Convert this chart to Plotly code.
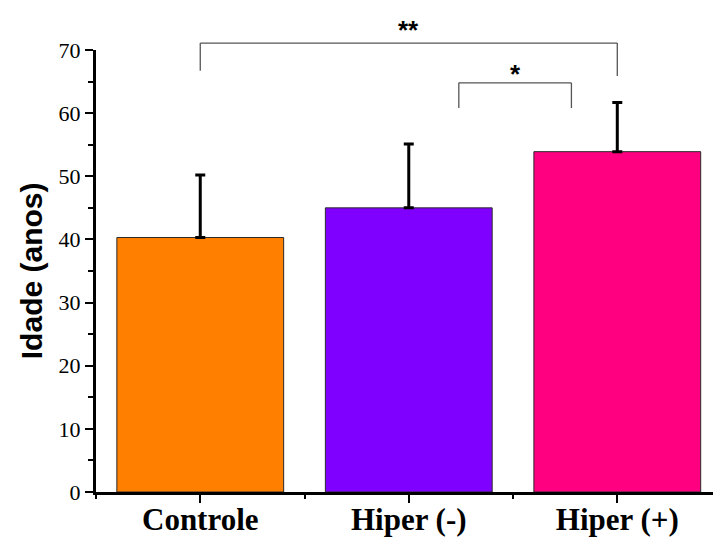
import plotly.graph_objects as go

# Age by group: mean and standard deviation
categories = ["Controle", "Hiper (-)", "Hiper (+)"]
mean_age = [40.3, 45.0, 53.9]
sd_age = [9.9, 10.1, 7.8]
bar_colors = ["#FF8000", "#8000FF", "#FF0080"]

y_ticks = [0, 10, 20, 30, 40, 50, 60, 70]

# Significance brackets: (left group, right group, bar height, left drop, right drop, label, label height)
brackets = [
    (0, 2, 71.1, 66.7, 65.9, "**", 73.2),
    (1.24, 1.78, 64.8, 60.8, 60.8, "*", 66.2),
]

Y_MAX = 70
x_pos = list(range(len(categories)))

fig = go.Figure()
fig.add_trace(go.Bar(
    x=x_pos,
    y=mean_age,
    width=0.8,
    marker=dict(color=bar_colors, line=dict(color="#2a2a2a", width=1)),
    error_y=dict(type="data", array=sd_age, arrayminus=[0] * len(sd_age),
                 symmetric=False, color="black", thickness=3, width=5),
    showlegend=False,
))

shapes = []
annotations = []
for x0, x1, top, d0, d1, label, ly in brackets:
    line = dict(color="#555555", width=1.3)
    shapes.append(dict(type="line", xref="x", yref="paper", x0=x0, x1=x1,
                       y0=top / Y_MAX, y1=top / Y_MAX, line=line))
    shapes.append(dict(type="line", xref="x", yref="paper", x0=x0, x1=x0,
                       y0=d0 / Y_MAX, y1=top / Y_MAX, line=line))
    shapes.append(dict(type="line", xref="x", yref="paper", x0=x1, x1=x1,
                       y0=d1 / Y_MAX, y1=top / Y_MAX, line=line))
    annotations.append(dict(text=label, xref="x", yref="paper", x=(x0 + x1) / 2,
                            y=ly / Y_MAX, showarrow=False, xanchor="center",
                            yanchor="middle",
                            font=dict(family="Liberation Sans", size=26,
                                      color="black", weight="bold")))

annotations.append(dict(text="Idade (anos)", xref="paper", yref="paper",
                        x=-0.105, y=0.5, textangle=-90, showarrow=False,
                        xanchor="center", yanchor="middle",
                        font=dict(family="Liberation Sans", size=30,
                                  color="black", weight="bold")))

fig.update_layout(
    width=713, height=537,
    margin=dict(l=96, r=0, t=50, b=45, autoexpand=False),
    paper_bgcolor="white", plot_bgcolor="white",
    shapes=shapes, annotations=annotations,
    bargap=0.2,
)

fig.update_xaxes(
    range=[-0.5, 2.459], automargin=False,
    tickvals=x_pos, ticktext=categories,
    ticks="outside", ticklen=8, tickwidth=2, tickcolor="black",
    showline=True, linewidth=3, linecolor="black",
    showgrid=False, zeroline=False,
    ticklabelstandoff=-10,
    tickfont=dict(family="Liberation Serif", size=31, color="black", weight="bold"),
    minor=dict(tickvals=[-0.5, 0.5, 1.5, 2.5], ticks="outside", ticklen=4,
               tickwidth=2, tickcolor="black", showgrid=False),
)

fig.update_yaxes(
    range=[0, Y_MAX], automargin=False,
    tickvals=y_ticks,
    ticks="outside", ticklen=8, tickwidth=2, tickcolor="black",
    showline=True, linewidth=3, linecolor="black",
    showgrid=False, zeroline=False,
    tickfont=dict(family="Liberation Serif", size=22, color="black"),
    minor=dict(dtick=5, ticks="outside", ticklen=5, tickwidth=2,
               tickcolor="black", showgrid=False),
)

fig.write_html("out.html")
